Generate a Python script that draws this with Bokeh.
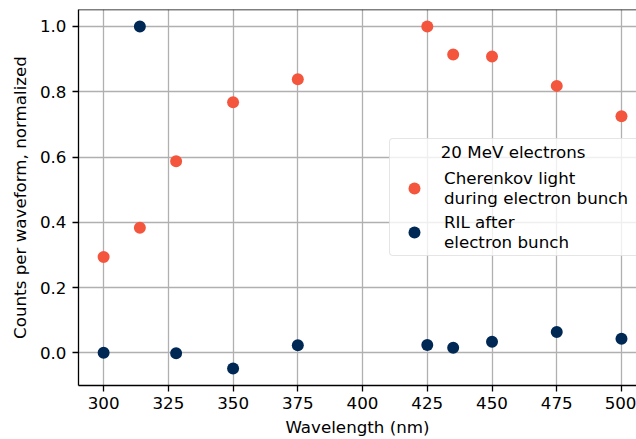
from bokeh.plotting import figure
from bokeh.models import (Range1d, Span, Legend, LegendItem, ColumnDataSource,
                          CustomJSTickFormatter)
from bokeh.embed import file_html
from bokeh.resources import INLINE

wavelength = [300, 314, 328, 350, 375, 425, 435, 450, 475, 500]
cherenkov = [0.294, 0.383, 0.587, 0.768, 0.838, 1.0, 0.914, 0.908, 0.818, 0.725]
ril = [0.0, 1.0, -0.001, -0.048, 0.023, 0.024, 0.016, 0.034, 0.064, 0.043]
x_ticks = [300, 325, 350, 375, 400, 425, 450, 475, 500]
y_ticks = [0.0, 0.2, 0.4, 0.6, 0.8, 1.0]

ORANGE = "#f4563d"
NAVY = "#002855"
FONT = "DejaVu Sans"
FS = "16.7px"

p = figure(width=636, height=439, output_backend="svg", toolbar_location=None,
           x_range=Range1d(290.3, 505.8), y_range=Range1d(-0.1, 1.052),
           min_border_left=78, min_border_right=0, min_border_top=9, min_border_bottom=53)
p.outline_line_color = None
p.background_fill_color = "white"

src = ColumnDataSource(dict(x=wavelength, c=cherenkov, r=ril))
rc = p.scatter("x", "c", source=src, size=12, color=ORANGE, line_color=None)
rr = p.scatter("x", "r", source=src, size=12, color=NAVY, line_color=None)

p.add_layout(Span(location=1.052, dimension="width", line_color="black", line_width=1.3))

for ax in (p.xaxis, p.yaxis):
    ax.axis_line_color = "black"
    ax.axis_line_width = 1.3
    ax.major_tick_line_color = "black"
    ax.major_tick_line_width = 1.3
    ax.major_tick_in = 0
    ax.major_tick_out = 6
    ax.minor_tick_line_color = None
    ax.major_label_text_font = FONT
    ax.major_label_text_font_size = FS
    ax.major_label_text_color = "black"
    ax.axis_label_text_font = FONT
    ax.axis_label_text_font_size = FS
    ax.axis_label_text_font_style = "normal"
    ax.axis_label_text_color = "black"

p.xaxis.ticker = x_ticks
p.yaxis.ticker = y_ticks
p.yaxis.formatter = CustomJSTickFormatter(code="return tick.toFixed(1);")
p.xaxis.axis_label = "Wavelength (nm)"
p.yaxis.axis_label = "Counts per waveform, normalized"
p.xaxis.major_label_standoff = 5
p.xaxis.axis_label_standoff = 5
p.yaxis.major_label_standoff = 6
p.yaxis.axis_label_standoff = 7

p.xgrid.ticker = x_ticks
p.ygrid.ticker = y_ticks
p.grid.grid_line_color = "#b0b0b0"
p.grid.grid_line_width = 1.3

legend = Legend(items=[
    LegendItem(label="Cherenkov light\nduring electron bunch", renderers=[rc]),
    LegendItem(label="RIL after\nelectron bunch", renderers=[rr]),
], location=(311, 129))
legend.title = "\u00a0" * 9 + "20 MeV electrons"
legend.title_text_font = FONT
legend.title_text_font_size = FS
legend.title_text_font_style = "normal"
legend.title_text_color = "black"
legend.title_standoff = 6
legend.label_text_font = FONT
legend.label_text_font_size = FS
legend.label_text_color = "black"
legend.label_text_line_height = 1.2
legend.label_height = 40
legend.label_width = 200
legend.glyph_width = 42
legend.glyph_height = 30
legend.label_standoff = 9
legend.spacing = 4
legend.padding = 3
legend.margin = 0
legend.border_line_color = "#cccccc"
legend.border_line_width = 1.3
legend.background_fill_color = "white"
legend.background_fill_alpha = 0.8
legend.border_radius = 4
p.add_layout(legend, "center")

open("out.html", "w").write(file_html(p, INLINE))
